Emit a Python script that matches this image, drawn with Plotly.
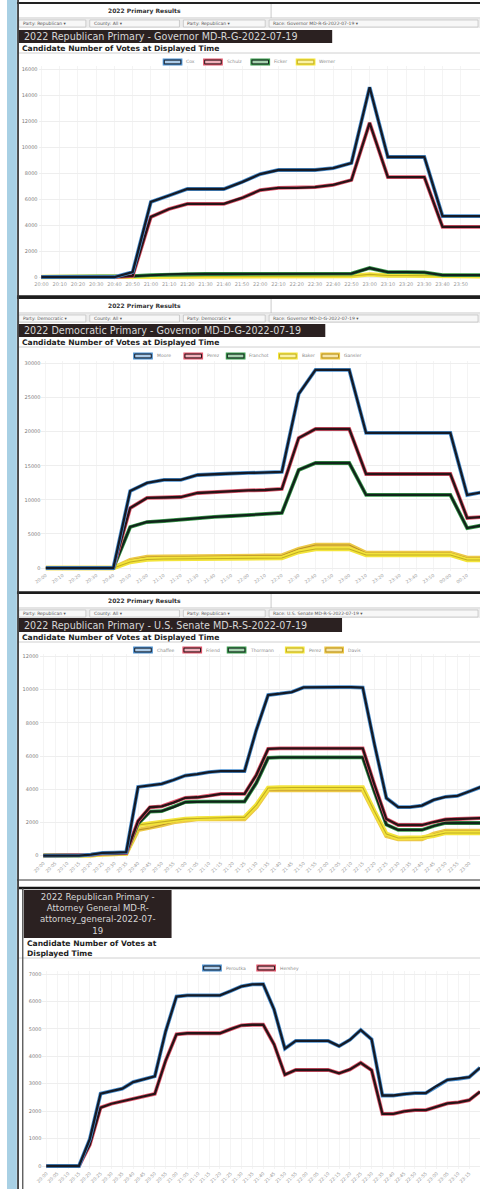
import plotly.graph_objects as go

W, H = 480, 1189


def clock(h, m, n, step):
    out = []
    for k in range(n):
        t = h * 60 + m + k * step
        out.append(f"{(t // 60) % 24:02d}:{t % 60:02d}")
    return out


# ---------------- data ----------------
# Panel 1: 2022 Republican Primary - Governor
gov_r_times = clock(20, 0, 26, 10)
gov_r_names = ["Cox", "Schulz", "Ficker", "Werner"]
gov_r_cox = [0, 0, 0, 0, 0, 380, 5770, 6270, 6770, 6770, 6770, 7300, 7920, 8230, 8230, 8230, 8380, 8770, 14600, 9230, 9230, 9230, 4690, 4690, 4690, 4690]
gov_r_schulz = [0, 0, 0, 0, 0, 80, 4620, 5230, 5620, 5620, 5620, 6080, 6690, 6850, 6850, 6920, 7080, 7460, 11850, 7690, 7690, 7690, 3850, 3850, 3850, 3850]
gov_r_ficker = [0, 0, 0, 0, 0, 60, 150, 200, 230, 230, 230, 230, 230, 230, 230, 230, 230, 260, 690, 380, 380, 350, 150, 150, 150, 150]
gov_r_werner = [0, 0, 0, 0, 0, 20, 50, 60, 70, 70, 70, 70, 70, 70, 70, 70, 70, 80, 200, 110, 110, 100, 50, 50, 50, 50]
gov_r_yticks = [0, 2000, 4000, 6000, 8000, 10000, 12000, 14000, 16000]

# Panel 2: 2022 Democratic Primary - Governor
gov_d_times = clock(20, 0, 27, 10)
gov_d_names = ["Moore", "Perez", "Franchot", "Baker", "Gansler"]
gov_d_moore = [0, 0, 0, 0, 0, 11300, 12480, 12920, 12920, 13650, 13800, 13870, 13950, 14020, 14090, 25540, 29070, 29070, 29070, 19820, 19820, 19820, 19820, 19820, 19820, 10720, 11160]
gov_d_perez = [0, 0, 0, 0, 0, 8800, 10280, 10350, 10420, 11010, 11160, 11300, 11380, 11450, 11600, 19080, 20400, 20400, 20400, 13800, 13800, 13800, 13800, 13800, 13800, 7340, 7490]
gov_d_franchot = [0, 0, 0, 0, 0, 6020, 6750, 6900, 7120, 7340, 7490, 7630, 7780, 7930, 8070, 14390, 15410, 15410, 15410, 10720, 10720, 10720, 10720, 10720, 10720, 5870, 6310]
gov_d_baker = [0, 0, 0, 0, 0, 880, 1250, 1320, 1350, 1380, 1400, 1420, 1440, 1460, 1470, 2350, 2790, 2790, 2790, 1910, 1910, 1910, 1910, 1910, 1910, 1170, 1170]
gov_d_gansler = [0, 0, 0, 0, 0, 1170, 1610, 1650, 1700, 1720, 1740, 1760, 1780, 1800, 1820, 2790, 3380, 3380, 3380, 2200, 2200, 2200, 2200, 2200, 2200, 1470, 1470]
gov_d_yticks = [0, 5000, 10000, 15000, 20000, 25000, 30000]

# Panel 3: 2022 Republican Primary - U.S. Senate
sen_r_times = clock(20, 0, 38, 5)
sen_r_names = ["Chaffee", "Friend", "Thormann", "Perez", "Davis"]
sen_r_chaffee = [0, 0, 0, 0, 70, 175, 190, 220, 4140, 4240, 4330, 4560, 4830, 4920, 5040, 5100, 5100, 5100, 7570, 9680, 9760, 9860, 10140, 10160, 10160, 10160, 10160, 10130, 6680, 3470, 2930, 2930, 3020, 3360, 3550, 3600, 3870, 4140]
sen_r_friend = [0, 0, 0, 0, 50, 120, 130, 160, 2090, 2920, 2970, 3200, 3490, 3520, 3600, 3720, 3720, 3720, 4860, 6430, 6460, 6460, 6460, 6460, 6460, 6460, 6460, 6460, 4260, 2210, 1850, 1850, 1850, 2030, 2180, 2210, 2240, 2270]
sen_r_thormann = [0, 0, 0, 0, 50, 120, 130, 160, 1930, 2650, 2680, 2930, 3230, 3260, 3260, 3260, 3260, 3260, 4380, 5890, 5920, 5920, 5920, 5920, 5920, 5920, 5920, 5920, 3840, 1870, 1550, 1550, 1550, 1790, 1970, 1970, 1970, 1970]
sen_r_perez = [0, 0, 0, 0, 30, 80, 90, 120, 1850, 1950, 2040, 2130, 2220, 2240, 2270, 2310, 2310, 2310, 3050, 4080, 4110, 4110, 4110, 4110, 4110, 4110, 4110, 4110, 2660, 1310, 1070, 1070, 1100, 1200, 1370, 1370, 1370, 1370]
sen_r_davis = [0, 0, 0, 0, 30, 80, 90, 120, 1550, 1670, 1850, 2030, 2150, 2210, 2210, 2210, 2210, 2210, 2930, 3960, 3960, 3960, 3960, 3960, 3960, 3960, 3960, 3960, 2570, 1200, 1010, 1010, 1010, 1310, 1490, 1490, 1490, 1490]
sen_r_yticks = [0, 2000, 4000, 6000, 8000, 10000, 12000]

# Panel 4: 2022 Republican Primary - Attorney General
ag_r_times = clock(20, 0, 41, 5)
ag_r_names = ["Peroutka", "Hershey"]
ag_r_peroutka = [0, 0, 0, 0, 980, 2640, 2730, 2820, 3060, 3170, 3270, 4910, 6180, 6220, 6220, 6220, 6220, 6380, 6550, 6620, 6630, 5710, 4280, 4560, 4560, 4560, 4560, 4370, 4600, 4960, 4620, 2570, 2570, 2620, 2660, 2660, 2920, 3140, 3180, 3240, 3580]
ag_r_hershey = [0, 0, 0, 0, 770, 2130, 2270, 2360, 2470, 2560, 2630, 3840, 4800, 4840, 4840, 4840, 4840, 4990, 5130, 5150, 5150, 4440, 3330, 3500, 3500, 3500, 3500, 3380, 3520, 3760, 3490, 1900, 1900, 1990, 2040, 2040, 2170, 2280, 2320, 2400, 2710]
ag_r_yticks = [0, 1000, 2000, 3000, 4000, 5000, 6000, 7000]

# ---------------- styles ----------------
COL = {"blue": "#4a8fcf", "red": "#e0566c", "green": "#3a9a4c", "yellow": "#f3e43a", "orange": "#ecc846"}
CORE = {"blue": "#141a26", "red": "#281316", "green": "#10241a", "yellow": "#c2ad22", "orange": "#b99224"}

panels = [
    dict(times=gov_r_times, names=gov_r_names,
         series=[gov_r_cox, gov_r_schulz, gov_r_ficker, gov_r_werner],
         colors=["blue", "red", "green", "yellow"], yticks=gov_r_yticks,
         top=0, left=32, x0=35, step=18.5, y0=277, ytop=69, angle=0,
         title="2022 Republican Primary - Governor MD-R-G-2022-07-19", tb=(12, 30, 330, 43),
         party="Republican", race="Governor MD-R-G-2022-07-19", leg_y=62,
         leg_x=[158, 199, 247, 293]),
    dict(times=gov_d_times, names=gov_d_names,
         series=[gov_d_moore, gov_d_perez, gov_d_franchot, gov_d_baker, gov_d_gansler],
         colors=["blue", "red", "green", "yellow", "orange"], yticks=gov_d_yticks,
         top=295, left=35, x0=39.5, step=17.1, y0=568, ytop=363.6, angle=-35,
         title="2022 Democratic Primary - Governor MD-D-G-2022-07-19", tb=(12, 324, 323, 337),
         party="Democratic", race="Governor MD-D-G-2022-07-19", leg_y=356,
         leg_x=[128, 179, 222, 275, 318]),
    dict(times=sen_r_times, names=sen_r_names,
         series=[sen_r_chaffee, sen_r_friend, sen_r_thormann, sen_r_perez, sen_r_davis],
         colors=["blue", "red", "green", "yellow", "orange"], yticks=sen_r_yticks,
         top=590, left=33, x0=37, step=12, y0=855.7, ytop=656.5, angle=-45,
         title="2022 Republican Primary - U.S. Senate MD-R-S-2022-07-19", tb=(12, 618, 340, 632),
         party="Republican", race="U.S. Senate MD-R-S-2022-07-19", leg_y=650,
         leg_x=[128, 178, 223, 282, 322]),
    dict(times=ag_r_times, names=ag_r_names,
         series=[ag_r_peroutka, ag_r_hershey],
         colors=["blue", "red"], yticks=ag_r_yticks,
         top=880, left=36, x0=40, step=11, y0=1166, ytop=974, angle=-45,
         title=None, leg_y=968, leg_x=[198, 253]),
]


def X(px):
    return px / W


def Y(py):
    return 1 - py / H


shapes = []
annotations = []


def rect(x0, y0, x1, y1, fill, line=None, lw=0):
    shapes.append(dict(type="rect", xref="paper", yref="paper",
                       x0=X(x0), x1=X(x1), y0=Y(y1), y1=Y(y0),
                       fillcolor=fill, line=dict(color=line or fill, width=lw), layer="above"))


def hline(x0, x1, y, color, w=1):
    shapes.append(dict(type="line", xref="paper", yref="paper", x0=X(x0), x1=X(x1), y0=Y(y), y1=Y(y),
                       line=dict(color=color, width=w), layer="above"))


def vline(x, y0, y1, color, w=1):
    shapes.append(dict(type="line", xref="paper", yref="paper", x0=X(x), x1=X(x), y0=Y(y0), y1=Y(y1),
                       line=dict(color=color, width=w), layer="above"))


def text(x, y, s, size, color, anchor="left", family="DejaVu Sans", align=None):
    annotations.append(dict(xref="paper", yref="paper", x=X(x), y=Y(y), text=s, showarrow=False,
                            xanchor=anchor, yanchor="middle", align=align or ("center" if anchor == "center" else "left"),
                            font=dict(size=size, color=color, family=family)))


fig = go.Figure()
layout_axes = {}

for k, p in enumerate(panels, start=1):
    xa, ya = f"x{k}", f"y{k}"
    for vals, c in reversed(list(zip(p["series"], p["colors"]))):
        soft = c in ("yellow", "orange")
        fig.add_trace(go.Scatter(x=p["times"], y=vals, mode="lines", xaxis=xa, yaxis=ya,
                                 line=dict(color=COL[c], width=4.4 if soft else 3.8),
                                 hoverinfo="skip", showlegend=False))
        fig.add_trace(go.Scatter(x=p["times"], y=vals, mode="lines", xaxis=xa, yaxis=ya,
                                 line=dict(color=CORE[c], width=1.1 if soft else 2.3),
                                 hoverinfo="skip", showlegend=False))
    ymax = p["yticks"][-1]
    upp = ymax / (p["y0"] - p["ytop"])
    xr = [(p["left"] - p["x0"]) / p["step"], (W - p["x0"]) / p["step"]]
    shown = [t for i, t in enumerate(p["times"]) if p["x0"] + p["step"] * i + 9 <= W]
    suffix = "" if k == 1 else str(k)
    layout_axes["xaxis" + suffix] = dict(
        domain=[X(p["left"]), 1], anchor=ya, type="category", range=xr,
        tickmode="array", tickvals=shown, ticktext=shown, tickangle=p["angle"],
        tickfont=dict(size=4.6 if p["angle"] else 5, color="#9c9c9c", family="DejaVu Sans"),
        showgrid=True, gridcolor="#f4f4f4", gridwidth=0.6, zeroline=False, showline=False, ticks="")
    layout_axes["yaxis" + suffix] = dict(
        domain=[Y(p["y0"] + 3), Y(p["ytop"] - 3)], anchor=xa, range=[-3 * upp, ymax + 3 * upp],
        tickmode="array", tickvals=p["yticks"], ticktext=[str(v) for v in p["yticks"]],
        tickfont=dict(size=5, color="#7c7c7c", family="DejaVu Sans"),
        showgrid=True, gridcolor="#eeeeee", gridwidth=0.6, zeroline=False, showline=False, ticks="")

    T = p["top"]
    if p["title"] is not None:
        hline(10, 480, T + 3, "#222222", 2.2)
        text(140, T + 11, "<b>2022 Primary Results</b>", 6, "#333333", anchor="center")
        vline(268, T + 4, T + 18, "#bdbdbd", 0.8)
        hline(12, 480, T + 18, "#bbbbbb", 0.8)
        rect(12, T + 19, 480, T + 28, "#ececec")
        rect(12, T + 20, 80, T + 27, "#f7f7f7", "#b5b5b5", 0.6)
        text(14, T + 23.5, "Party: " + p["party"] + " ▾", 4.5, "#555555")
        rect(84, T + 20, 175, T + 27, "#f7f7f7", "#b5b5b5", 0.6)
        text(86, T + 23.5, "County: All ▾", 4.5, "#555555")
        rect(179, T + 20, 262, T + 27, "#f7f7f7", "#b5b5b5", 0.6)
        text(181, T + 23.5, "Party: " + p["party"] + " ▾", 4.5, "#555555")
        rect(266, T + 20, 478, T + 27, "#f7f7f7", "#b5b5b5", 0.6)
        text(268, T + 23.5, "Race: " + p["race"] + " ▾", 4.5, "#555555")
        x0, y0, x1, y1 = p["tb"]
        rect(x0, y0, x1, y1, "#2b2121")
        text(x0 + 3, (y0 + y1) / 2, p["title"], 9.6, "#d6d6d6")
        text(13, y1 + 5.5, "<b>Candidate Number of Votes at Displayed Time</b>", 7.6, "#1e1e1e")
        hline(12, 480, y1 + 10, "#c4c4c4", 0.8)
    else:
        hline(10, 480, T, "#333333", 1.2)
        hline(12, 480, T + 8, "#151515", 2.6)
        rect(17, 890, 167, 938, "#2b2121")
        text(92, 914, "2022 Republican Primary -<br>Attorney General MD-R-<br>attorney_general-2022-07-<br>19",
             8.6, "#d6d6d6", anchor="center")
        text(18, 948.5, "<b>Candidate Number of Votes at<br>Displayed Time</b>", 7.6, "#1e1e1e", align="left")
        hline(12, 480, 958, "#c4c4c4", 0.8)
        vline(16, 888, 1189, "#444444", 1.2)
    ly = p["leg_y"]
    for lx, c, nm in zip(p["leg_x"], p["colors"], p["names"]):
        rect(lx, ly - 3.5, lx + 20, ly + 3.5, COL[c])
        rect(lx + 1.6, ly - 1.9, lx + 18.4, ly + 1.9, "rgba(255,255,255,0.55)", CORE[c], 1)
        text(lx + 22, ly, nm, 4.5, "#8a8a8a")

hline(10, 480, 296.5, "#1c1c1c", 2.4)
hline(10, 480, 592.5, "#1c1c1c", 2.4)
rect(0, 0, 10, 1189, "#a8d0e4")
vline(11.2, 0, 1189, "#3a3a3a", 1.8)

fig.update_layout(
    width=W, height=H, margin=dict(l=0, r=0, t=0, b=0),
    paper_bgcolor="white", plot_bgcolor="white", showlegend=False,
    shapes=shapes, annotations=annotations, **layout_axes)

fig.write_html(
    "out.html",
    config={"displayModeBar": False},
    post_script="document.body.style.margin='0';document.body.style.overflow='hidden';",
)
